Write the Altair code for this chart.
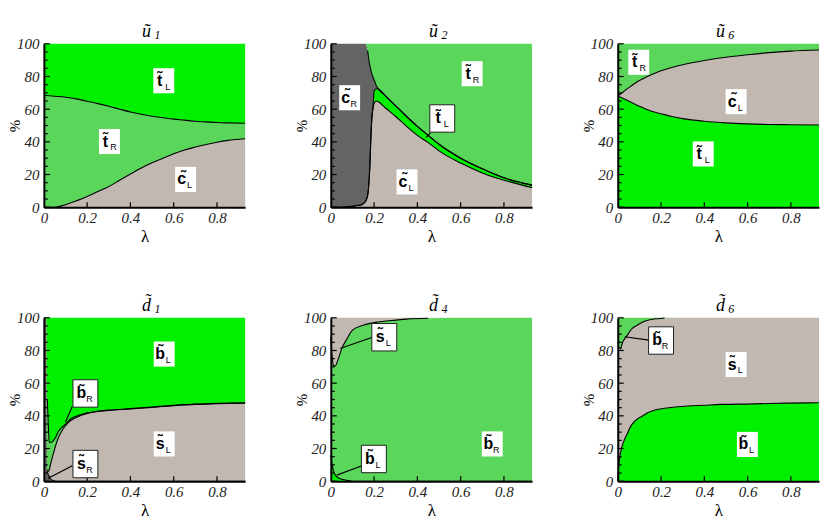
import altair as alt
import pandas as pd

XMAX = 0.93
W, H = 202, 164

SHADES = ["bright", "mid", "beige", "dark"]
SHADE_COLORS = ["#00F000", "#5AD65A", "#C1B9B1", "#646464"]

# ---- u~1 ----
U1_LAM = [0, 0.05, 0.1, 0.15, 0.2, 0.25, 0.3, 0.35, 0.4, 0.45, 0.5, 0.55, 0.6, 0.65, 0.7, 0.75, 0.8, 0.85, 0.93]
U1_CL = [0, 0, 1.5, 3.9, 6.5, 9.6, 12.6, 16.5, 20.3, 24, 27.2, 30, 32.7, 35, 36.8, 38.4, 39.8, 40.9, 41.9]
U1_TR = [68.5, 67.9, 65.8, 62.4, 58.3, 53.8, 49.2, 43.5, 38, 32.9, 28.5, 24.7, 21.2, 18.3, 15.8, 13.8, 12, 10.7, 9.5]
U1_TL = [31.5, 32.1, 32.7, 33.7, 35.2, 36.6, 38.2, 40, 41.7, 43.1, 44.3, 45.3, 46.1, 46.7, 47.4, 47.8, 48.2, 48.4, 48.6]

# ---- u~2 ----
U2_LAM = [0, 0.05, 0.1, 0.12, 0.14, 0.16, 0.17, 0.175, 0.18, 0.185, 0.19, 0.195, 0.2, 0.21, 0.22, 0.25, 0.3, 0.35, 0.4, 0.45, 0.5, 0.6, 0.7, 0.8, 0.93]
U2_CL = [0, 0, 0.5, 1, 1.4, 3.5, 7, 13, 24, 42, 55, 61, 63.5, 65, 64.5, 61, 55.5, 49.5, 44, 39.5, 34.5, 27, 21, 16.5, 12]
U2_TL = [0, 0, 0, 0, 0, 0, 0, 0, 0, 0, 0, 0, 7.5, 7.5, 7.8, 7.5, 6.5, 6, 5.5, 4.5, 4, 3, 2.5, 1.5, 1.5]
U2_CR = [100, 100, 99.5, 99, 98.6, 96.5, 89, 78, 63, 42, 26.5, 18.5, 7, 2, 0, 0, 0, 0, 0, 0, 0, 0, 0, 0, 0]
U2_TR = [0, 0, 0, 0, 0, 0, 4, 9, 13, 16, 18.5, 20.5, 22, 25.5, 27.7, 31.5, 38, 44.5, 50.5, 56, 61.5, 70, 76.5, 82, 86.5]

# ---- u~6 ----
U6_LAM = [0, 0.025, 0.05, 0.1, 0.15, 0.2, 0.25, 0.3, 0.4, 0.5, 0.6, 0.7, 0.8, 0.93]
U6_TL = [68, 66.5, 65, 61.8, 59, 57.2, 55.5, 54.2, 52.6, 51.6, 51, 50.6, 50.5, 50.3]
U6_CL = [0, 4, 8, 15.7, 21.8, 26.3, 30, 33, 37.2, 40.2, 42.3, 44, 45, 45.9]
U6_TR = [32, 29.5, 27, 22.5, 19.2, 16.5, 14.5, 12.8, 10.2, 8.2, 6.7, 5.4, 4.5, 3.8]

# ---- d~1 ----
D1_LAM = [0, 0.012, 0.016, 0.02, 0.025, 0.03, 0.042, 0.055, 0.065, 0.08, 0.096, 0.11, 0.127, 0.15, 0.173, 0.2, 0.235, 0.3, 0.4, 0.5, 0.6, 0.7, 0.8, 0.93]
D1_SR = [100, 100, 6, 4, 3, 1.5, 0.5, 0, 0, 0, 0, 0, 0, 0, 0, 0, 0, 0, 0, 0, 0, 0, 0, 0]
D1_SL = [0, 0, 1, 2, 4, 8.5, 15.5, 22, 26, 30, 33.3, 35.5, 37.3, 39, 40.4, 41.5, 42.4, 43.3, 44.2, 45.2, 46.2, 47, 47.4, 47.8]
D1_BR = [0, 0, 43, 30, 17, 13.5, 8.5, 5, 4, 2.5, 1.2, 1, 1.1, 0.8, 0.4, 0.3, 0.2, 0.2, 0.2, 0.2, 0.2, 0.2, 0.2, 0.2]
D1_BL = [0, 0, 50, 64, 76, 76.5, 75.5, 73, 70, 67.5, 65.5, 63.5, 61.6, 60.2, 59.2, 58.2, 57.4, 56.5, 55.6, 54.6, 53.6, 52.8, 52.4, 52]

# ---- d~4 ----
D4_LAM = [0, 0.005, 0.012, 0.02, 0.035, 0.05, 0.074, 0.1, 0.15, 0.227, 0.3, 0.35, 0.45, 0.564, 0.7, 0.93]
D4_BL = [16, 11, 6.5, 4, 2, 1.2, 0.6, 0, 0, 0, 0, 0, 0, 0, 0, 0]
D4_BR = [72, 67, 64.5, 66.5, 73, 79.8, 86.4, 92.4, 95.5, 97.6, 98.6, 99.2, 99.7, 100, 100, 100]
D4_SL = [12, 22, 29, 29.5, 25, 19, 13, 7.6, 4.5, 2.4, 1.4, 0.8, 0.3, 0, 0, 0]

# ---- d~6 ----
D6_LAM = [0, 0.005, 0.01, 0.014, 0.017, 0.02, 0.033, 0.04, 0.063, 0.094, 0.109, 0.14, 0.155, 0.2, 0.216, 0.324, 0.4, 0.477, 0.63, 0.784, 0.93]
D6_BL = [0, 9.8, 15, 18, 20, 21.5, 26, 28, 34.3, 38.4, 39.5, 42, 42.8, 44.3, 44.6, 46, 46.5, 47, 47.3, 47.8, 48]
D6_SL = [83, 72.2, 66.5, 63, 62.5, 62.5, 61.3, 60.5, 58.7, 57.4, 57.5, 56.5, 56.2, 55.3, 55.2, 54, 53.5, 53, 52.7, 52.2, 52]
D6_BR = [17, 18, 18.5, 19, 17.5, 16, 12.7, 11.5, 7, 4.2, 3, 1.5, 1, 0.4, 0.2, 0, 0, 0, 0, 0, 0]

# ---- region labels: (letter, subscript, lambda, percent, boxed) ----
U1_LABELS = [("t̃", "L", 0.554, 77.4, False), ("t̃", "R", 0.303, 40.2, False), ("c̃", "L", 0.655, 17.0, False)]
U2_LABELS = [("c̃", "R", 0.087, 67.0, False), ("t̃", "R", 0.653, 81.7, False), ("t̃", "L", 0.515, 54.3, True), ("c̃", "L", 0.352, 15.5, False)]
U6_LABELS = [("t̃", "R", 0.097, 88.7, False), ("c̃", "L", 0.547, 64.6, False), ("t̃", "L", 0.395, 32.6, False)]
D1_LABELS = [("b̃", "L", 0.556, 77.8, False), ("b̃", "R", 0.192, 53.7, True), ("s̃", "L", 0.556, 22.8, False), ("s̃", "R", 0.192, 10.5, True)]
D4_LABELS = [("s̃", "L", 0.247, 88.1, True), ("b̃", "L", 0.199, 13.6, True), ("b̃", "R", 0.746, 22.8, False)]
D6_LABELS = [("b̃", "R", 0.2, 86.1, True), ("s̃", "L", 0.547, 71.4, False), ("b̃", "L", 0.599, 22.5, False)]

# leader lines: (lambda from, percent from, lambda to, percent to)
U2_LEADERS = [(0.46, 45.5, 0.441, 42.7)]
D1_LEADERS = [(0.131, 45.7, 0.1, 36.3), (0.131, 9.4, 0.018, 1.6)]
D4_LEADERS = [(0.199, 88.4, 0.043, 81.2), (0.15, 9.8, 0.028, 3.7)]
D6_LEADERS = [(0.144, 86.3, 0.032, 88.4)]

X_TICKS = [0.2, 0.4, 0.6, 0.8]
Y_MAJOR = [0, 20, 40, 60, 80, 100]
Y_MINOR = [5, 10, 15, 25, 30, 35, 45, 50, 55, 65, 70, 75, 85, 90, 95]

PANELS = [
    ("ũ", "1", U1_LAM, [("cL", "beige", U1_CL), ("tR", "mid", U1_TR), ("tL", "bright", U1_TL)], U1_LABELS, []),
    ("ũ", "2", U2_LAM, [("cL", "beige", U2_CL), ("tL", "bright", U2_TL), ("cR", "dark", U2_CR), ("tR", "mid", U2_TR)], U2_LABELS, U2_LEADERS),
    ("ũ", "6", U6_LAM, [("tL", "bright", U6_TL), ("cL", "beige", U6_CL), ("tR", "mid", U6_TR)], U6_LABELS, []),
    ("d̃", "1", D1_LAM, [("sR", "dark", D1_SR), ("sL", "beige", D1_SL), ("bR", "mid", D1_BR), ("bL", "bright", D1_BL)], D1_LABELS, D1_LEADERS),
    ("d̃", "4", D4_LAM, [("bL", "bright", D4_BL), ("bR", "mid", D4_BR), ("sL", "beige", D4_SL)], D4_LABELS, D4_LEADERS),
    ("d̃", "6", D6_LAM, [("bL", "bright", D6_BL), ("sL", "beige", D6_SL), ("bR", "mid", D6_BR)], D6_LABELS, D6_LEADERS),
]

XSCALE = alt.Scale(domain=[0, XMAX], nice=False, zero=False)
YSCALE = alt.Scale(domain=[0, 100], nice=False)
COLOR = alt.Scale(domain=SHADES, range=SHADE_COLORS)

AXIS_COMMON = dict(
    labelFont="Liberation Serif", labelFontStyle="italic", labelFontSize=15,
    labelColor="#222", domainColor="black", domainWidth=2, ticks=False, grid=False,
    titleFont="Liberation Serif", titleFontWeight="normal", titleColor="black",
    zindex=1, labelFlush=False,
)
XAXIS = alt.Axis(values=[0, 0.2, 0.4, 0.6, 0.8], format="~g", title="λ",
                 titleFontSize=17, titlePadding=3, labelPadding=3, **AXIS_COMMON)
YAXIS = alt.Axis(values=Y_MAJOR, title="%", titleFontSize=15,
                 titleX=-21, titleY=H / 2, labelPadding=5, **AXIS_COMMON)


def X(f):
    return alt.X(f, type="quantitative", scale=XSCALE, axis=XAXIS)


def Y(f):
    return alt.Y(f, type="quantitative", scale=YSCALE, axis=YAXIS)


BOX_PLAIN = "M-1,-1.2H1V1.2H-1Z"
BOX_FRAMED = "M-1,-1.1H1V1.1H-1Z"


def make_panel(main, sub, lam, comps, labels, leaders):
    rows = []
    n = len(comps)
    for k, (name, shade, vals) in enumerate(comps):
        for l, v in zip(lam, vals):
            rows.append({"lam": l, "value": v, "comp": name, "shade": shade,
                         "order": k, "top": k == n - 1})
    df = pd.DataFrame(rows)
    base = alt.Chart(df).transform_stack(
        stack="value", groupby=["lam"], as_=["y0", "y1"],
        sort=[alt.SortField("order", order="ascending")])
    area = base.mark_area(interpolate="monotone").encode(
        x=X("lam"), y=Y("y0"), y2="y1:Q",
        color=alt.Color("shade:N", scale=COLOR, legend=None))
    line = base.transform_filter("!datum.top && datum.y1 < 99.95").mark_line(
        interpolate="monotone", color="black", strokeWidth=1.1).encode(
        x=X("lam"), y=Y("y1"), detail="comp:N")

    ymaj = alt.Chart(pd.DataFrame({"v": Y_MAJOR})).mark_rule(
        color="black", strokeWidth=1.2, opacity=1).encode(
        y=Y("v"), x=alt.value(0), x2=alt.value(6))
    ymin = alt.Chart(pd.DataFrame({"v": Y_MINOR})).mark_rule(
        color="black", strokeWidth=1.2, opacity=1).encode(
        y=Y("v"), x=alt.value(0), x2=alt.value(4))
    xt = alt.Chart(pd.DataFrame({"v": X_TICKS})).mark_rule(
        color="black", strokeWidth=1.2, opacity=1).encode(
        x=X("v"), y=alt.value(H), y2=alt.value(H - 5))

    layers = [area, line, ymaj, ymin, xt]

    if leaders:
        ld = pd.DataFrame(leaders, columns=["l1", "p1", "l2", "p2"])
        layers.append(alt.Chart(ld).mark_rule(color="black", strokeWidth=1.2).encode(
            x=X("l1"), y=Y("p1"), x2="l2:Q", y2="p2:Q"))

    lab = pd.DataFrame(labels, columns=["main", "sub", "lam", "pct", "boxed"])
    plain = lab[~lab["boxed"]]
    framed = lab[lab["boxed"]]
    if len(plain):
        layers.append(alt.Chart(plain).mark_point(
            shape=BOX_PLAIN, size=441, filled=True, fill="white", opacity=1, strokeWidth=0).encode(
            x=X("lam"), y=Y("pct")))
    if len(framed):
        layers.append(alt.Chart(framed).mark_point(
            shape=BOX_FRAMED, size=625, filled=True, fill="white", stroke="#222",
            strokeWidth=1, opacity=1).encode(x=X("lam"), y=Y("pct")))
    layers.append(alt.Chart(lab).mark_text(
        font="Liberation Sans", fontWeight="bold", fontSize=16, dx=-4, dy=0,
        baseline="middle", align="center", color="black").encode(
        x=X("lam"), y=Y("pct"), text="main:N"))
    layers.append(alt.Chart(lab).mark_text(
        font="Liberation Sans", fontSize=9, dx=4, dy=6,
        baseline="middle", align="center", color="black").encode(
        x=X("lam"), y=Y("pct"), text="sub:N"))

    layers.append(alt.Chart(pd.DataFrame({"t": [main]})).mark_text(
        font="Liberation Serif", fontStyle="italic", fontSize=18, align="center",
        baseline="alphabetic", color="black").encode(
        x=alt.value(W / 2 + 2), y=alt.value(-7), text="t:N"))
    layers.append(alt.Chart(pd.DataFrame({"t": [sub]})).mark_text(
        font="Liberation Serif", fontStyle="italic", fontSize=12, align="center",
        baseline="alphabetic", color="black").encode(
        x=alt.value(W / 2 + 13), y=alt.value(-5), text="t:N"))

    return alt.layer(*layers).properties(width=W, height=H)


charts = [make_panel(*p) for p in PANELS]

chart = alt.concat(
    *charts, columns=3, spacing={"row": 111, "column": 86}, bounds="flush"
).properties(
    padding={"left": 0, "top": 14, "right": 0, "bottom": 0}
).configure_view(
    stroke=None
)

chart.save("out.html", embed_options={"renderer": "svg", "actions": False})
